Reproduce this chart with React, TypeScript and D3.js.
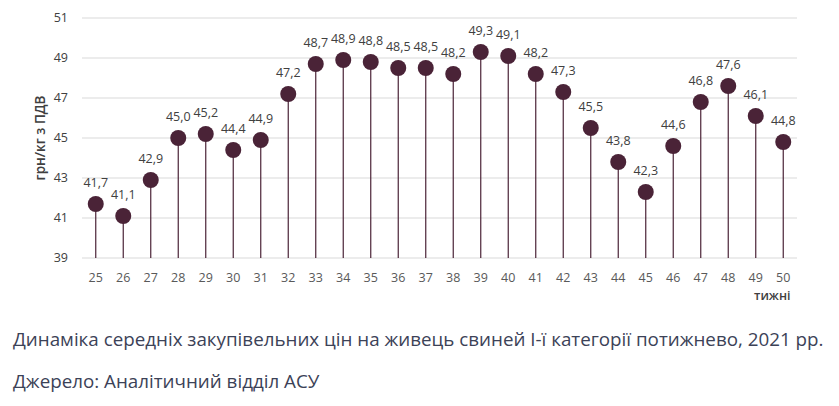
import * as d3 from 'd3'

const weeks = ['25', '26', '27', '28', '29', '30', '31', '32', '33', '34', '35', '36', '37', '38', '39', '40', '41', '42', '43', '44', '45', '46', '47', '48', '49', '50']
const prices = [41.7, 41.1, 42.9, 45.0, 45.2, 44.4, 44.9, 47.2, 48.7, 48.9, 48.8, 48.5, 48.5, 48.2, 49.3, 49.1, 48.2, 47.3, 45.5, 43.8, 42.3, 44.6, 46.8, 47.6, 46.1, 44.8]
const yTicks = [39, 41, 43, 45, 47, 49, 51]

const W = 839
const H = 406
const plot = { left: 82, right: 797, top: 18, bottom: 258 }
const markColor = '#4a2337'
const font = '"Open Sans", "Noto Sans", sans-serif'

export default function App() {
  const x = d3.scaleBand<string>().domain(weeks).range([plot.left, plot.right])
  const y = d3.scaleLinear().domain([39, 51]).range([plot.bottom, plot.top])
  const fmt = (v: number) => v.toFixed(1).replace('.', ',')

  return (
    <svg width={W} height={H} style={{ position: 'absolute', left: 0, top: 0, background: '#fff' }} fontFamily={font}>
      {yTicks.map((t) => (
        <g key={t}>
          <line x1={plot.left} x2={plot.right} y1={y(t)} y2={y(t)} stroke="#d9d9d9" strokeWidth={1} />
          <text x={68} y={y(t)} dy="0.35em" textAnchor="end" fontSize={12.5} fill="#404040">
            {t}
          </text>
        </g>
      ))}
      <text transform={`translate(45 138) rotate(-90)`} textAnchor="middle" fontSize={13.5} fontWeight={600} fill="#404040">
        грн/кг з ПДВ
      </text>

      {weeks.map((w, i) => {
        const cx = (x(w) ?? 0) + x.bandwidth() / 2
        const cy = y(prices[i])
        return (
          <g key={w}>
            <line x1={cx} x2={cx} y1={cy} y2={plot.bottom} stroke={markColor} strokeWidth={1.2} />
            <circle cx={cx} cy={cy} r={8} fill={markColor} />
            <text x={cx} y={cy - 17} textAnchor="middle" fontSize={12.5} fill="#404040">
              {fmt(prices[i])}
            </text>
            <text x={cx} y={282} textAnchor="middle" fontSize={12.5} fill="#595959">
              {w}
            </text>
          </g>
        )
      })}
      <text x={(x('50') ?? 0) + x.bandwidth() / 2 - 11} y={300} textAnchor="middle" fontSize={12.5} fontWeight={600} fill="#404040">
        тижні
      </text>

      <text x={13} y={346} fontSize={18.8} fill="#3c4257">
        Динаміка середніх закупівельних цін на живець свиней I-ї категорії потижнево, 2021 рр.
      </text>
      <text x={13} y={388} fontSize={18.8} fill="#3c4257">
        Джерело: Аналітичний відділ АСУ
      </text>
    </svg>
  )
}
